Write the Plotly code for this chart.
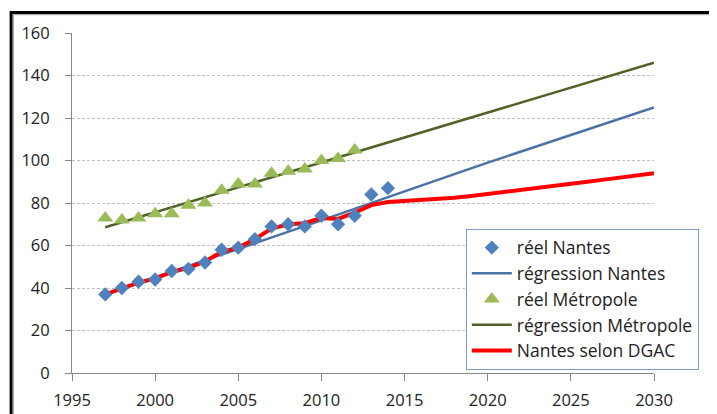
import plotly.graph_objects as go

# ---- data ----
years_nantes = list(range(1997, 2015))
reel_nantes = [37, 40, 43, 44, 48, 49, 52, 58, 59, 63, 69, 70, 69, 74, 70, 74, 84, 87]

years_metro = list(range(1997, 2013))
reel_metro = [73, 72, 73, 75, 75, 79, 80, 86, 89, 89, 94, 95, 96, 100, 101, 105]

years_reg = [1997, 2000, 2005, 2010, 2015, 2020, 2025, 2030]
reg_nantes = [37, 45, 58.3, 71.8, 85.5, 99, 112, 125]
reg_metro = [68.6, 75.6, 87.3, 99, 110.8, 122.5, 134.2, 146]

years_dgac = list(range(1997, 2031))
dgac = [37, 40, 42.5, 44.5, 47.5, 49.5, 52.5, 57, 59, 63, 68, 70, 70.5, 73, 72.5, 75.5,
        79, 80.5, 81, 81.3, 81.8, 82.5, 83.3, 84.2, 85.1, 86, 87, 88, 89, 90,
        91, 92, 93, 94]

x_ticks = [1995, 2000, 2005, 2010, 2015, 2020, 2025, 2030]
y_ticks = [0, 20, 40, 60, 80, 100, 120, 140, 160]

FONT = "Open Sans"

fig = go.Figure()

fig.add_trace(go.Scatter(x=years_reg, y=reg_nantes, mode="lines", name="régression Nantes",
                         line=dict(color="#4a72a8", width=2.5), legendrank=2, legendgroup="b"))
fig.add_trace(go.Scatter(x=years_reg, y=reg_metro, mode="lines", name="régression Métropole",
                         line=dict(color="#4f6228", width=2.5), legendrank=4, legendgroup="d"))
fig.add_trace(go.Scatter(x=years_dgac, y=dgac, mode="lines", name="Nantes selon DGAC",
                         line=dict(color="#ff0000", width=4), legendrank=5, legendgroup="e"))
fig.add_trace(go.Scatter(x=years_metro, y=reel_metro, mode="markers", name="réel Métropole",
                         marker=dict(symbol="triangle-up", size=14, color="#9bbb59"),
                         legendrank=3, legendgroup="c"))
fig.add_trace(go.Scatter(x=years_nantes, y=reel_nantes, mode="markers", name="réel Nantes",
                         marker=dict(symbol="diamond", size=11, color="#4f81bd"),
                         legendrank=1, legendgroup="a"))

# page pixel geometry (the page body has an 8px margin)
OFF = 8
W, H = 717 - OFF, 414 - OFF
L = 71.5 - OFF
T = 33.3 - OFF
R = 717 - 654.5
B = (H + OFF) - 373.3
pw = W - L - R
ph = H - T - B

def px_x(px):
    return (px - OFF - L) / pw

def px_y(py):
    return (H - B - (py - OFF)) / ph

# outer frame (black with grey shadow)
fig.add_shape(type="rect", xref="paper", yref="paper",
              x0=px_x(10.5), x1=px_x(760), y0=px_y(12.8), y1=px_y(460),
              line=dict(color="black", width=3), fillcolor="rgba(0,0,0,0)", layer="above")
fig.add_shape(type="rect", xref="paper", yref="paper",
              x0=px_x(12.8), x1=px_x(760), y0=px_y(15), y1=px_y(460),
              line=dict(color="#a0a0a0", width=1), fillcolor="rgba(0,0,0,0)", layer="above")

fig.update_layout(
    width=W, height=H,
    margin=dict(l=L, r=R, t=T, b=B, pad=0, autoexpand=False),
    paper_bgcolor="white", plot_bgcolor="white",
    font=dict(family=FONT, size=16, color="#222222"),
    showlegend=True,
    legend=dict(
        x=px_x(466), y=px_y(370), xanchor="left", yanchor="bottom",
        bgcolor="white", bordercolor="#7f9cc4", borderwidth=1,
        font=dict(family=FONT, size=17.5, color="#222222"),
        tracegroupgap=7, traceorder="normal", itemwidth=40,
    ),
    xaxis=dict(
        range=[1995, 2030], tickvals=x_ticks, ticktext=[str(v) for v in x_ticks],
        showgrid=False, zeroline=False, automargin=False,
        showline=True, linecolor="#868686", linewidth=1,
        ticks="outside", ticklen=7, tickcolor="#868686",
        ticklabelstandoff=5,
        tickfont=dict(family=FONT, size=16.5, color="#222222"),
    ),
    yaxis=dict(
        range=[0, 160], tickvals=y_ticks, ticktext=[str(v) for v in y_ticks],
        showgrid=True, gridcolor="#c0c0c0", griddash="3px,2px", gridwidth=1,
        zeroline=False, automargin=False,
        showline=True, linecolor="#868686", linewidth=1,
        ticks="outside", ticklen=6, tickcolor="#868686",
        ticklabelstandoff=12,
        tickfont=dict(family=FONT, size=16.5, color="#222222"),
    ),
)

fig.write_html("out.html")
